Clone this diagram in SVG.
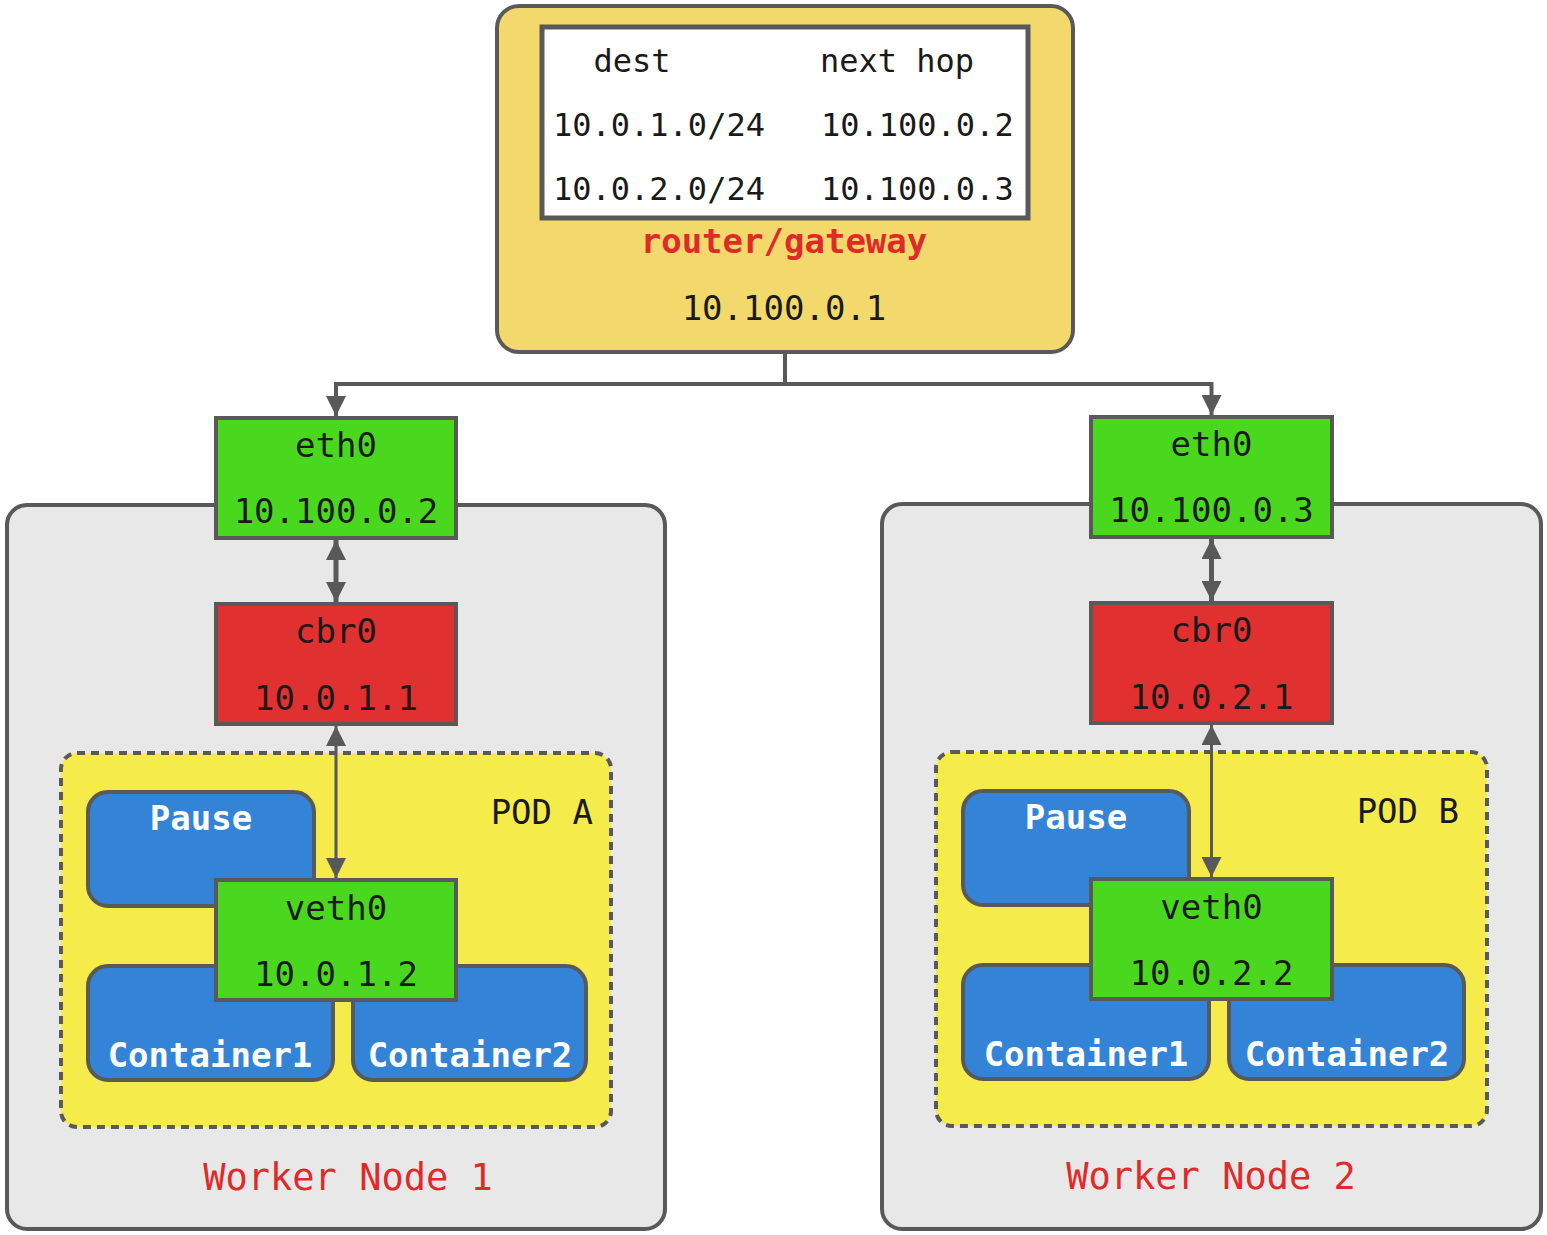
<svg xmlns="http://www.w3.org/2000/svg" width="1547" height="1235" viewBox="0 0 1547 1235">
<defs>
<style>
text{font-family:"DejaVu Sans Mono","Liberation Mono",monospace;fill:#1a1a1a;}
.c{text-anchor:middle;}
.s{stroke:#595959;stroke-width:4;}
.big{font-size:34px;}
.tbl{font-size:32px;}
.red{fill:#E02A2A;}
.wh{fill:#ffffff;font-weight:bold;}
.green{fill:#4AD81F;}
.rbox{fill:#E03030;}
.blue{fill:#3384D7;}
.gray{fill:#E8E8E8;}
.pod{fill:#F5EB4B;stroke:#595959;stroke-width:4;stroke-dasharray:8 6;}
.ln{stroke:#595959;fill:none;}
</style>
<marker id="ah" markerUnits="userSpaceOnUse" markerWidth="22" markerHeight="20" viewBox="0 0 22 20" refX="20" refY="10" orient="auto-start-reverse">
<path d="M0,0 L20,10 L0,20 Z" fill="#595959"/>
</marker>
</defs>

<g id="router">
<rect x="497" y="6" width="576" height="346" rx="22" fill="#F3D96B" class="s"/>
<rect x="542" y="27" width="486" height="191" fill="#ffffff" stroke="#595959" stroke-width="5"/>
<text x="632" y="72" class="c tbl">dest</text>
<text x="897" y="72" class="c tbl">next hop</text>
<text x="553" y="136" class="tbl">10.0.1.0/24</text>
<text x="821" y="136" class="tbl">10.100.0.2</text>
<text x="553" y="200" class="tbl">10.0.2.0/24</text>
<text x="821" y="200" class="tbl">10.100.0.3</text>
<text x="784" y="253" class="c big red" font-weight="bold">router/gateway</text>
<text x="784" y="320" class="c big">10.100.0.1</text>
</g>

<g id="worker1">
<rect x="7" y="505" width="658" height="724" rx="20" class="gray s"/>
<text x="348" y="1190" class="c red" font-size="37">Worker Node 1</text>
</g>
<g id="worker2">
<rect x="882" y="504" width="659" height="725" rx="20" class="gray s"/>
<text x="1211" y="1189" class="c red" font-size="37">Worker Node 2</text>
</g>

<g id="eth0-1">
<rect x="216" y="418" width="240" height="120" class="green s"/>
<text x="336" y="457" class="c big">eth0</text>
<text x="336" y="523" class="c big">10.100.0.2</text>
</g>
<g id="eth0-2">
<rect x="1091" y="417" width="241" height="120" class="green s"/>
<text x="1211.5" y="456" class="c big">eth0</text>
<text x="1211.5" y="522" class="c big">10.100.0.3</text>
</g>

<g id="cbr0-1">
<rect x="216" y="604" width="240" height="120" class="rbox s"/>
<text x="336" y="643" class="c big">cbr0</text>
<text x="336" y="710" class="c big">10.0.1.1</text>
</g>
<g id="cbr0-2">
<rect x="1091" y="603" width="241" height="120" class="rbox s"/>
<text x="1211.5" y="642" class="c big">cbr0</text>
<text x="1211.5" y="709" class="c big">10.0.2.1</text>
</g>

<g id="podA">
<rect x="61" y="753" width="550" height="374" rx="16" class="pod"/>
<text x="593" y="824" class="big" text-anchor="end">POD A</text>
</g>
<g id="podB">
<rect x="936" y="752" width="551" height="374" rx="16" class="pod"/>
<text x="1459" y="823" class="big" text-anchor="end">POD B</text>
</g>

<g id="pauseA">
<rect x="88" y="792" width="226" height="114" rx="20" class="blue s"/>
<text x="201" y="830" class="c big wh">Pause</text>
</g>
<g id="container1A">
<rect x="88" y="966" width="245" height="114" rx="20" class="blue s"/>
<text x="210" y="1067" class="c big wh">Container1</text>
</g>
<g id="container2A">
<rect x="353" y="966" width="233" height="114" rx="20" class="blue s"/>
<text x="470" y="1067" class="c big wh">Container2</text>
</g>
<g id="veth0-1">
<rect x="216" y="880" width="240" height="120" class="green s"/>
<text x="336" y="920" class="c big">veth0</text>
<text x="336" y="986" class="c big">10.0.1.2</text>
</g>

<g id="pauseB">
<rect x="963" y="791" width="226" height="114" rx="20" class="blue s"/>
<text x="1076" y="829" class="c big wh">Pause</text>
</g>
<g id="container1B">
<rect x="963" y="965" width="246" height="114" rx="20" class="blue s"/>
<text x="1086" y="1066" class="c big wh">Container1</text>
</g>
<g id="container2B">
<rect x="1229" y="965" width="235" height="114" rx="20" class="blue s"/>
<text x="1347" y="1066" class="c big wh">Container2</text>
</g>
<g id="veth0-2">
<rect x="1091" y="879" width="241" height="120" class="green s"/>
<text x="1211.5" y="919" class="c big">veth0</text>
<text x="1211.5" y="985" class="c big">10.0.2.2</text>
</g>

<g id="connectors">
<path d="M785,352 V384" class="ln" stroke-width="4"/>
<path d="M785,384 H336 V416" class="ln" stroke-width="4" marker-end="url(#ah)"/>
<path d="M785,384 H1211.5 V415" class="ln" stroke-width="4" marker-end="url(#ah)"/>
<path d="M336,540 V602" class="ln" stroke-width="5" marker-start="url(#ah)" marker-end="url(#ah)"/>
<path d="M1211.5,539 V601" class="ln" stroke-width="5" marker-start="url(#ah)" marker-end="url(#ah)"/>
<path d="M336,726 V878" class="ln" stroke-width="3" marker-start="url(#ah)" marker-end="url(#ah)"/>
<path d="M1211.5,725 V877" class="ln" stroke-width="3" marker-start="url(#ah)" marker-end="url(#ah)"/>
</g>
</svg>
